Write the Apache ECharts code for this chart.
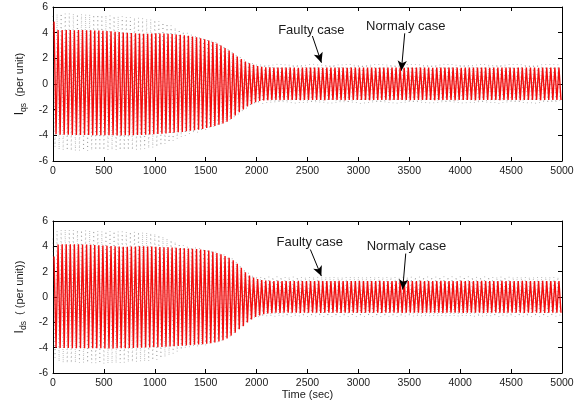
<!DOCTYPE html>
<html>
<head>
<meta charset="utf-8">
<script src="https://cdn.jsdelivr.net/npm/echarts@6/dist/echarts.min.js"></script>
<style>
  html, body { margin: 0; padding: 0; background: #fff; }
  #chart { width: 579px; height: 404px; }
</style>
</head>
<body>
<div id="chart"></div>
<script>
// Successive extrema of the stator currents (per unit), one value per cycle.
// Tops and bottoms alternate every HALF_PERIOD seconds.
const HALF_PERIOD = 20;
const NORMAL_START = 10;
const FAULTY_START = 0;

const xTicks = [0, 500, 1000, 1500, 2000, 2500, 3000, 3500, 4000, 4500, 5000];
const yTicks = [-6, -4, -2, 0, 2, 4, 6];

// ---- Iqs ----
const qsNormalTop = [
  4.86, 4.2, 4.2, 4.21, 4.2, 4.19, 4.2, 4.2, 4.18, 4.18, 4.17, 4.16, 4.15, 4.13, 4.1, 4.08, 4.05, 4.02, 4.0, 3.97, 3.95, 3.93, 3.92, 3.92, 3.93,
  3.95, 3.94, 3.93, 3.91, 3.89, 3.86, 3.83, 3.79, 3.75, 3.7, 3.64, 3.57, 3.49, 3.39, 3.28, 3.15, 2.99, 2.81, 2.61, 2.39, 2.14, 1.94, 1.76, 1.61, 1.49,
  1.4, 1.34, 1.31, 1.3, 1.29, 1.29, 1.28, 1.28, 1.29, 1.28, 1.27, 1.28, 1.28, 1.29, 1.28, 1.28, 1.27, 1.28, 1.28, 1.29, 1.28, 1.28, 1.27, 1.28, 1.28,
  1.28, 1.29, 1.28, 1.28, 1.27, 1.28, 1.28, 1.28, 1.29, 1.28, 1.28, 1.27, 1.28, 1.28, 1.28, 1.29, 1.28, 1.28, 1.27, 1.28, 1.28, 1.28, 1.29, 1.28, 1.28,
  1.27, 1.28, 1.28, 1.29, 1.28, 1.28, 1.28, 1.27, 1.28, 1.29, 1.28, 1.28, 1.28, 1.27, 1.28, 1.28, 1.29, 1.28, 1.28, 1.27, 1.28, 1.28, 1.29, 1.28, 1.28
];
const qsNormalBottom = [
  -3.92, -3.95, -3.96, -3.96, -3.97, -3.97, -3.98, -3.98, -3.98, -3.99, -3.99, -4.0, -4.0, -4.0, -4.0, -4.01, -4.01, -4.0, -4.0, -3.99, -3.98, -3.97, -3.95, -3.93, -3.91,
  -3.89, -3.87, -3.85, -3.82, -3.79, -3.76, -3.73, -3.69, -3.65, -3.61, -3.56, -3.5, -3.43, -3.35, -3.27, -3.17, -3.07, -2.94, -2.72, -2.46, -2.2, -1.98, -1.76, -1.57, -1.42,
  -1.33, -1.28, -1.26, -1.25, -1.25, -1.26, -1.25, -1.24, -1.25, -1.25, -1.26, -1.25, -1.25, -1.24, -1.25, -1.25, -1.26, -1.25, -1.25, -1.24, -1.25, -1.26, -1.25, -1.25, -1.24,
  -1.25, -1.25, -1.26, -1.25, -1.24, -1.25, -1.25, -1.26, -1.25, -1.25, -1.24, -1.25, -1.26, -1.25, -1.25, -1.24, -1.25, -1.25, -1.26, -1.25, -1.25, -1.24, -1.25, -1.26, -1.25,
  -1.25, -1.24, -1.25, -1.26, -1.25, -1.25, -1.24, -1.25, -1.25, -1.26, -1.25, -1.24, -1.25, -1.25, -1.26, -1.25, -1.25, -1.24, -1.25, -1.26, -1.25, -1.25, -1.24, -1.25, -1.25
];
const qsFaultyTop = [
  5.3, 5.45, 5.5, 5.48, 5.5, 5.47, 5.45, 5.46, 5.44, 5.42, 5.4, 5.4, 5.38, 5.35, 5.33, 5.3, 5.28, 5.25, 5.22, 5.2, 5.18, 5.15, 5.12, 5.08, 5.04,
  5.0, 4.9, 4.8, 4.7, 4.55, 4.4, 4.25, 4.1, 3.98, 3.88, 3.8, 3.72, 3.64, 3.55, 3.44, 3.31, 3.16, 2.98, 2.78, 2.56, 2.32, 2.1, 1.92, 1.78, 1.67,
  1.6, 1.57, 1.55, 1.55, 1.54, 1.56, 1.55, 1.54, 1.55, 1.56, 1.55, 1.55, 1.54, 1.55, 1.56, 1.55, 1.54, 1.55, 1.55, 1.56, 1.55, 1.54, 1.55, 1.56, 1.55,
  1.55, 1.54, 1.55, 1.56, 1.55, 1.55, 1.54, 1.56, 1.55, 1.55, 1.54, 1.55, 1.56, 1.55, 1.54, 1.55, 1.55, 1.56, 1.55, 1.54, 1.55, 1.56, 1.55, 1.55, 1.54,
  1.55, 1.56, 1.55, 1.54, 1.55, 1.55, 1.56, 1.55, 1.54, 1.55, 1.56, 1.55, 1.55, 1.54, 1.55, 1.56, 1.55, 1.54, 1.55, 1.55, 1.56, 1.55, 1.54, 1.55, 1.55
];
const qsFaultyBottom = [
  -4.9, -5.1, -5.15, -5.18, -5.2, -5.2, -5.2, -5.18, -5.18, -5.17, -5.15, -5.15, -5.15, -5.14, -5.14, -5.15, -5.16, -5.16, -5.15, -5.14, -5.12, -5.1, -5.06, -5.02, -4.97,
  -4.9, -4.8, -4.68, -4.55, -4.42, -4.28, -4.14, -4.02, -3.92, -3.84, -3.76, -3.68, -3.6, -3.5, -3.4, -3.28, -3.15, -3.0, -2.82, -2.6, -2.36, -2.13, -1.92, -1.75, -1.62,
  -1.55, -1.52, -1.5, -1.5, -1.51, -1.49, -1.5, -1.5, -1.51, -1.5, -1.49, -1.5, -1.51, -1.5, -1.5, -1.49, -1.5, -1.51, -1.5, -1.5, -1.49, -1.5, -1.51, -1.5, -1.5,
  -1.51, -1.5, -1.49, -1.5, -1.5, -1.51, -1.5, -1.49, -1.5, -1.51, -1.5, -1.5, -1.49, -1.5, -1.51, -1.5, -1.5, -1.49, -1.5, -1.51, -1.5, -1.5, -1.49, -1.5, -1.51,
  -1.5, -1.5, -1.49, -1.5, -1.51, -1.5, -1.5, -1.49, -1.5, -1.51, -1.5, -1.5, -1.49, -1.5, -1.51, -1.5, -1.5, -1.49, -1.5, -1.51, -1.5, -1.5, -1.49, -1.5, -1.5
];

// ---- Ids ----
const dsNormalTop = [
  3.2, 4.15, 4.16, 4.17, 4.17, 4.17, 4.16, 4.15, 4.14, 4.12, 4.1, 4.08, 4.06, 4.04, 4.02, 4.0, 3.98, 3.97, 3.97, 3.98, 3.99, 4.0, 4.0, 3.99, 3.98,
  3.96, 3.95, 3.93, 3.92, 3.9, 3.88, 3.86, 3.84, 3.82, 3.8, 3.78, 3.75, 3.71, 3.66, 3.58, 3.48, 3.37, 3.24, 3.1, 2.9, 2.62, 2.3, 1.95, 1.7, 1.53,
  1.42, 1.34, 1.3, 1.28, 1.26, 1.27, 1.26, 1.25, 1.26, 1.26, 1.27, 1.26, 1.25, 1.26, 1.26, 1.27, 1.26, 1.25, 1.26, 1.26, 1.27, 1.26, 1.25, 1.26, 1.26,
  1.27, 1.26, 1.25, 1.26, 1.26, 1.27, 1.26, 1.25, 1.26, 1.26, 1.27, 1.26, 1.25, 1.26, 1.26, 1.27, 1.26, 1.25, 1.26, 1.26, 1.27, 1.26, 1.25, 1.26, 1.26,
  1.27, 1.26, 1.25, 1.26, 1.26, 1.27, 1.26, 1.25, 1.26, 1.26, 1.27, 1.26, 1.25, 1.26, 1.26, 1.27, 1.26, 1.25, 1.26, 1.26, 1.27, 1.26, 1.25, 1.26, 1.26
];
const dsNormalBottom = [
  -4.0, -4.02, -4.03, -4.03, -4.04, -4.04, -4.05, -4.05, -4.05, -4.05, -4.05, -4.05, -4.06, -4.06, -4.06, -4.05, -4.05, -4.04, -4.03, -4.02, -4.01, -4.0, -3.99, -3.98, -3.97,
  -3.96, -3.95, -3.93, -3.91, -3.89, -3.87, -3.85, -3.82, -3.8, -3.77, -3.75, -3.72, -3.69, -3.65, -3.6, -3.52, -3.42, -3.28, -3.05, -2.82, -2.55, -2.3, -2.02, -1.78, -1.58,
  -1.45, -1.36, -1.3, -1.27, -1.24, -1.25, -1.24, -1.23, -1.24, -1.24, -1.25, -1.24, -1.23, -1.24, -1.24, -1.25, -1.24, -1.23, -1.24, -1.24, -1.25, -1.24, -1.23, -1.24, -1.24,
  -1.25, -1.24, -1.23, -1.24, -1.24, -1.25, -1.24, -1.23, -1.24, -1.24, -1.25, -1.24, -1.23, -1.24, -1.24, -1.25, -1.24, -1.23, -1.24, -1.24, -1.25, -1.24, -1.23, -1.24, -1.24,
  -1.25, -1.24, -1.23, -1.24, -1.24, -1.25, -1.24, -1.23, -1.24, -1.24, -1.25, -1.24, -1.23, -1.24, -1.24, -1.25, -1.24, -1.23, -1.24, -1.24, -1.25, -1.24, -1.23, -1.24, -1.24
];
const dsFaultyTop = [
  4.6, 5.2, 5.3, 5.32, 5.3, 5.3, 5.28, 5.28, 5.26, 5.25, 5.25, 5.22, 5.2, 5.2, 5.2, 5.2, 5.18, 5.16, 5.15, 5.15, 5.15, 5.14, 5.12, 5.1, 5.06,
  5.0, 4.9, 4.78, 4.64, 4.5, 4.36, 4.22, 4.1, 4.0, 3.95, 3.9, 3.87, 3.83, 3.78, 3.7, 3.6, 3.48, 3.35, 3.2, 3.02, 2.8, 2.5, 2.18, 1.92, 1.74,
  1.65, 1.61, 1.6, 1.6, 1.59, 1.61, 1.6, 1.59, 1.6, 1.61, 1.6, 1.6, 1.59, 1.6, 1.61, 1.6, 1.59, 1.6, 1.6, 1.61, 1.6, 1.59, 1.6, 1.61, 1.6,
  1.6, 1.59, 1.6, 1.61, 1.6, 1.6, 1.59, 1.61, 1.6, 1.6, 1.59, 1.6, 1.61, 1.6, 1.59, 1.6, 1.6, 1.61, 1.6, 1.59, 1.6, 1.61, 1.6, 1.6, 1.59,
  1.6, 1.61, 1.6, 1.59, 1.6, 1.6, 1.61, 1.6, 1.59, 1.6, 1.61, 1.6, 1.6, 1.59, 1.6, 1.61, 1.6, 1.59, 1.6, 1.6, 1.61, 1.6, 1.59, 1.6, 1.6
];
const dsFaultyBottom = [
  -4.8, -5.1, -5.2, -5.22, -5.22, -5.2, -5.2, -5.2, -5.2, -5.22, -5.24, -5.25, -5.26, -5.25, -5.24, -5.22, -5.2, -5.18, -5.16, -5.14, -5.12, -5.1, -5.08, -5.05, -5.0,
  -4.94, -4.85, -4.74, -4.6, -4.46, -4.32, -4.18, -4.06, -3.98, -3.93, -3.88, -3.84, -3.8, -3.74, -3.66, -3.56, -3.44, -3.28, -3.1, -2.88, -2.62, -2.35, -2.08, -1.86, -1.7,
  -1.62, -1.57, -1.55, -1.55, -1.56, -1.54, -1.55, -1.55, -1.56, -1.55, -1.54, -1.55, -1.56, -1.55, -1.55, -1.54, -1.55, -1.56, -1.55, -1.55, -1.54, -1.55, -1.56, -1.55, -1.55,
  -1.56, -1.55, -1.54, -1.55, -1.55, -1.56, -1.55, -1.54, -1.55, -1.56, -1.55, -1.55, -1.54, -1.55, -1.56, -1.55, -1.55, -1.54, -1.55, -1.56, -1.55, -1.55, -1.54, -1.55, -1.56,
  -1.55, -1.55, -1.54, -1.55, -1.56, -1.55, -1.55, -1.54, -1.55, -1.56, -1.55, -1.55, -1.54, -1.55, -1.56, -1.55, -1.55, -1.54, -1.55, -1.56, -1.55, -1.55, -1.54, -1.55, -1.55
];

// Interleave tops and bottoms into a time series.
function extrema(start, tops, bottoms) {
  const pts = [];
  const n = Math.min(tops.length, bottoms.length);
  for (let k = 0; k < n; k++) {
    pts.push([start + 2 * k * HALF_PERIOD, tops[k]]);
    pts.push([start + (2 * k + 1) * HALF_PERIOD, bottoms[k]]);
  }
  return pts;
}

const FONT = "'Liberation Sans', Arial, Helvetica, sans-serif";
const INK = '#1a1a1a';
const plain = v => String(v);

function xAxes(gi, withName) {
  const base = {
    gridIndex: gi, type: 'value', min: xTicks[0], max: xTicks[xTicks.length - 1], interval: 500,
    axisLine: { show: true, onZero: false, lineStyle: { color: '#000', width: 1 } },
    axisTick: { show: true, inside: true, length: 4, lineStyle: { color: '#000' } },
    splitLine: { show: false }
  };
  return [
    Object.assign({}, base, {
      position: 'bottom',
      axisLabel: { show: true, margin: 5, fontSize: 10.5, color: INK, fontFamily: FONT, formatter: plain },
      name: withName ? 'Time (sec)' : '',
      nameLocation: 'middle', nameGap: 16,
      nameTextStyle: { fontSize: 11, color: INK, fontFamily: FONT }
    }),
    Object.assign({}, base, { position: 'top', axisLabel: { show: false } })
  ];
}

function yAxes(gi, sub, unit) {
  const base = {
    gridIndex: gi, type: 'value', min: yTicks[0], max: yTicks[yTicks.length - 1], interval: 2,
    axisLine: { show: true, onZero: false, lineStyle: { color: '#000', width: 1 } },
    axisTick: { show: true, inside: true, length: 4, lineStyle: { color: '#000' } },
    splitLine: { show: false }
  };
  return [
    Object.assign({}, base, {
      position: 'left',
      axisLabel: { show: true, margin: 5, fontSize: 10.5, color: INK, fontFamily: FONT, formatter: plain },
      name: '{i|I}{s|' + sub + '}{u|' + unit + '}',
      nameLocation: 'middle', nameRotate: 90, nameGap: 22,
      nameTextStyle: {
        color: INK, fontFamily: FONT,
        rich: {
          i: { fontSize: 12, lineHeight: 16, color: INK, fontFamily: FONT },
          s: { fontSize: 8.5, lineHeight: 8, verticalAlign: 'bottom', color: INK, fontFamily: FONT },
          u: { fontSize: 11, lineHeight: 16, color: INK, fontFamily: FONT }
        }
      }
    }),
    Object.assign({}, base, { position: 'right', axisLabel: { show: false } })
  ];
}

function note(text, at, from, to) {
  return {
    markPoint: {
      silent: true, symbol: 'circle', symbolSize: 0, animation: false,
      label: { show: true, position: 'inside', formatter: text, fontSize: 13, color: INK, fontFamily: FONT },
      data: [{ coord: at }]
    },
    markLine: {
      silent: true, animation: false, symbol: ['none', 'arrow'], symbolSize: [7, 10],
      lineStyle: { color: '#000', width: 1, type: 'solid' },
      label: { show: false },
      data: [[{ coord: from }, { coord: to }]]
    }
  };
}

function faulty(name, xi, yi, tops, bottoms, ann) {
  return Object.assign({
    name: name, type: 'line', xAxisIndex: xi, yAxisIndex: yi,
    data: extrema(FAULTY_START, tops, bottoms),
    showSymbol: false, symbol: 'none', z: 2,
    lineStyle: { color: '#333', width: 0.7, type: [0.7, 3.4], opacity: 0.65 }
  }, ann);
}
function normal(name, xi, yi, tops, bottoms, ann) {
  return Object.assign({
    name: name, type: 'line', xAxisIndex: xi, yAxisIndex: yi,
    data: extrema(NORMAL_START, tops, bottoms),
    showSymbol: false, symbol: 'none', z: 3,
    lineStyle: { color: '#f20d0d', width: 1.4 }
  }, ann);
}

const chart = echarts.init(document.getElementById('chart'), null, { renderer: 'canvas' });
chart.setOption({
  animation: false,
  backgroundColor: '#fff',
  grid: [
    { left: 53, top: 7, width: 509, height: 154, show: false },
    { left: 53, top: 221, width: 509, height: 152, show: false }
  ],
  xAxis: [].concat(xAxes(0, false), xAxes(1, true)),
  yAxis: [].concat(yAxes(0, 'qs', '  (per unit)'), yAxes(1, 'ds', '  ( (per unit))')),
  series: [
    faulty('Iqs faulty', 0, 0, qsFaultyTop, qsFaultyBottom,
      note('Faulty case', [2538, 4.21], [2548, 3.74], [2637, 1.66])),
    normal('Iqs normal', 0, 0, qsNormalTop, qsNormalBottom,
      note('Normaly case', [3465, 4.47], [3455, 3.95], [3422, 1.04])),
    faulty('Ids faulty', 2, 2, dsFaultyTop, dsFaultyBottom,
      note('Faulty case', [2522, 4.27], [2528, 3.75], [2636, 1.65])),
    normal('Ids normal', 2, 2, dsNormalTop, dsNormalBottom,
      note('Normaly case', [3472, 4.03], [3465, 3.43], [3435, 0.6]))
  ]
});
</script>
</body>
</html>
